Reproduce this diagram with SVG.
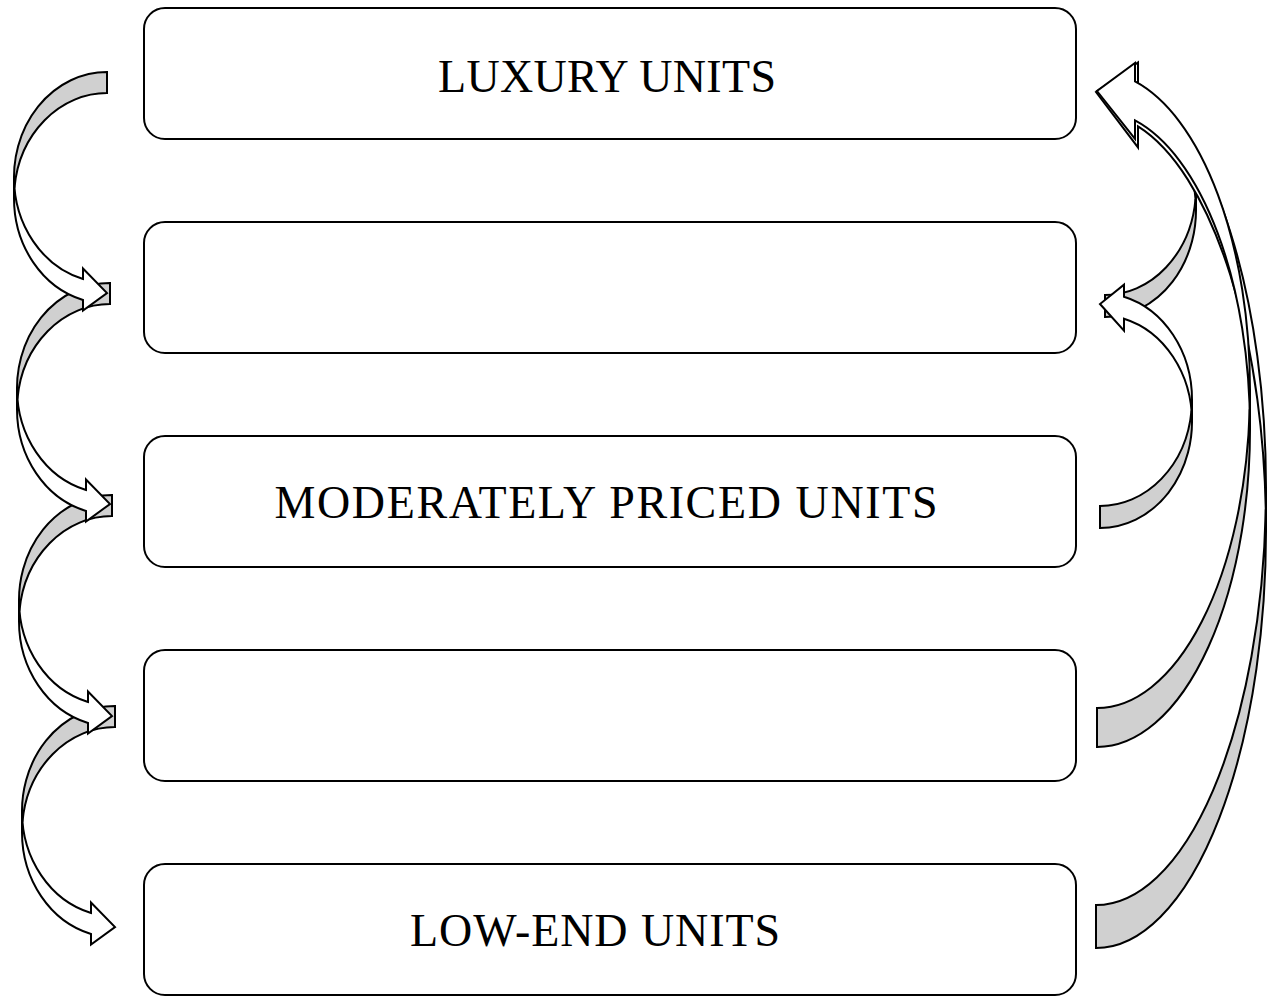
<svg xmlns="http://www.w3.org/2000/svg" width="1269" height="1002" viewBox="0 0 1269 1002">
<style>
.box{fill:#fff;stroke:#000;stroke-width:2}
.lbl{font-family:"Liberation Serif","Times New Roman",serif;font-size:46px;fill:#000;text-anchor:middle}
.back{fill:#d0d0d0;stroke:#000;stroke-width:2;stroke-linejoin:miter}
.front{fill:#fff;stroke:#000;stroke-width:2;stroke-linejoin:miter}
</style>
<defs>
<g id="leftArrow">
<path class="back" d="M93,21 A93,105.25 0 0 0 0.46,115.75 A93,105.25 0 0 1 93,0 Z"/>
<path class="front" d="M0,105.25 A93,105.25 0 0 0 69,206.94 L69,196.44 L93,221 L69,238.44 L69,227.94 A93,105.25 0 0 1 0,126.25 Z"/>
</g>
</defs>
<g id="node-luxury">
<rect class="box" x="144" y="8" width="932" height="131" rx="21"/>
<text class="lbl" x="607" y="92" textLength="338" lengthAdjust="spacing">LUXURY UNITS</text>
</g>
<g id="node-2">
<rect class="box" x="144" y="222" width="932" height="131" rx="21"/>
</g>
<g id="node-moderate">
<rect class="box" x="144" y="436" width="932" height="131" rx="21"/>
<text class="lbl" x="606" y="518" textLength="663" lengthAdjust="spacing">MODERATELY PRICED UNITS</text>
</g>
<g id="node-4">
<rect class="box" x="144" y="650" width="932" height="131" rx="21"/>
</g>
<g id="node-lowend">
<rect class="box" x="144" y="864" width="932" height="131" rx="21"/>
<text class="lbl" x="595" y="946" textLength="370" lengthAdjust="spacing">LOW-END UNITS</text>
</g>
<g id="connectors">
<use href="#leftArrow" transform="translate(22,706)"/>
<use href="#leftArrow" transform="translate(19,495)"/>
<use href="#leftArrow" transform="translate(17,283)"/>
<use href="#leftArrow" transform="translate(14,72)"/>
<g transform="translate(1196,317) rotate(180)">
<path class="back" d="M91,22 A91,107 0 0 0 0.48,118 A91,107 0 0 1 91,0 Z"/>
<path class="front" d="M0,107 A91,107 0 0 0 67,210.21 L67,198.21 L91,225 L67,244.21 L67,232.21 A91,107 0 0 1 0,129 Z"/>
</g>
<g transform="translate(1266,948) rotate(180)">
<path class="back" d="M170,43 A170,417.25 0 0 0 0.23,438.75 A170,417.25 0 0 1 170,0 Z"/>
<path class="front" d="M0,417.25 A170,417.25 0 0 0 128,821.57 L128,800.57 L170,856 L128,885.57 L128,864.57 A170,417.25 0 0 1 0,460.25 Z"/>
</g>
<g transform="translate(1250,747) rotate(180)">
<path class="back" d="M153,39 A153,318.25 0 0 0 0.29,337.75 A153,318.25 0 0 1 153,0 Z"/>
<path class="front" d="M0,318.25 A153,318.25 0 0 0 115,626.53 L115,608.03 L153,656 L115,684.03 L115,665.53 A153,318.25 0 0 1 0,357.25 Z"/>
</g>
<g transform="translate(1192,528) rotate(180)">
<path class="back" d="M92,22 A92,106.5 0 0 0 0.49,117.5 A92,106.5 0 0 1 92,0 Z"/>
<path class="front" d="M0,106.5 A92,106.5 0 0 0 68,209.31 L68,197.31 L92,224 L68,243.31 L68,231.31 A92,106.5 0 0 1 0,128.5 Z"/>
</g>
</g>
</svg>
